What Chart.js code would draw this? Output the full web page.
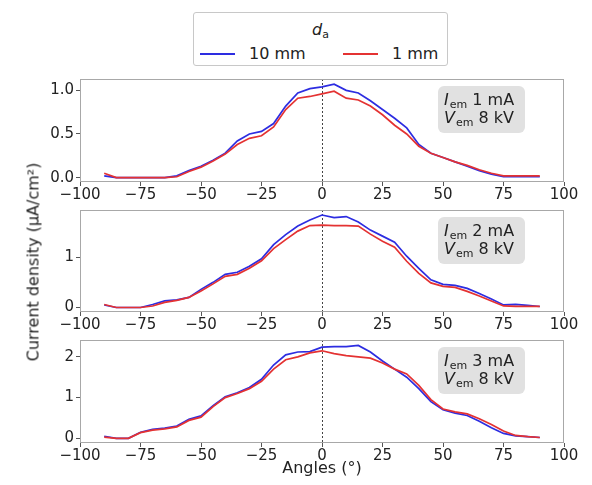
<!DOCTYPE html>
<html>
<head>
<meta charset="utf-8">
<script src="https://cdn.jsdelivr.net/npm/chart.js@4.4.0/dist/chart.umd.min.js"></script>
<style>
  body { margin: 0; background: #fff; font-family: 'DejaVu Sans', sans-serif; color: #222; }
  #wrap { position: relative; width: 592px; height: 485px; overflow: hidden; }
  canvas.panel { position: absolute; left: 0; }
  #legend { position: absolute; left: 193px; top: 12px; width: 255px; height: 54px; border: 1px solid #c8c8c8; border-radius: 3px; box-sizing: border-box; }
  #legend .title { position: absolute; left: 0; right: 0; top: 7px; text-align: center; font-size: 16px; }
  #legend .item { position: absolute; top: 31px; font-size: 16px; white-space: nowrap; }
  #legend .swatch { display: inline-block; width: 35px; height: 2px; vertical-align: middle; margin-right: 14px; position: relative; top: -1px; }
  #ylabel { position: absolute; left: 33px; top: 262px; transform: translate(-50%, -50%) rotate(-90deg); font-size: 16px; white-space: nowrap; }
  #xlabel { position: absolute; left: 322px; top: 467px; transform: translate(-50%, -50%); font-size: 16px; white-space: nowrap; }
  sub { font-size: 11px; vertical-align: -3px; }
</style>
</head>
<body>
<div id="wrap">
  <canvas id="p1" class="panel" width="592" height="134" style="top:68px"></canvas>
  <canvas id="p2" class="panel" width="592" height="133" style="top:199px"></canvas>
  <canvas id="p3" class="panel" width="592" height="134" style="top:329px"></canvas>
  <div id="legend">
    <div class="title"><i>d</i><sub>a</sub></div>
    <div class="item" style="left:6px"><span class="swatch" style="background:rgb(45,45,225)"></span>10 mm</div>
    <div class="item" style="left:149px"><span class="swatch" style="background:rgb(228,50,50)"></span>1 mm</div>
  </div>
  <div id="ylabel">Current density (μA/cm²)</div>
  <div id="xlabel">Angles (°)</div>
</div>
<script>
// angles (deg)
const angles = [-90,-85,-80,-75,-70,-65,-60,-55,-50,-45,-40,-35,-30,-25,-20,-15,-10,-5,0,5,10,15,20,25,30,35,40,45,50,55,60,65,70,75,80,85,90];

// I_em = 1 mA
const p1Far  = [0.02,0.00,0.00,0.00,0.00,0.00,0.02,0.08,0.13,0.20,0.28,0.42,0.50,0.53,0.62,0.82,0.97,1.02,1.04,1.07,1.00,0.97,0.88,0.78,0.68,0.57,0.38,0.28,0.23,0.18,0.13,0.08,0.04,0.01,0.01,0.01,0.01];
const p1Near = [0.05,0.00,0.00,0.00,0.00,0.00,0.01,0.07,0.12,0.19,0.27,0.38,0.45,0.48,0.58,0.78,0.91,0.93,0.96,0.99,0.91,0.89,0.82,0.72,0.60,0.50,0.36,0.28,0.23,0.18,0.14,0.09,0.05,0.02,0.02,0.02,0.02];
// I_em = 2 mA
const p2Far  = [0.05,0.00,0.00,0.00,0.06,0.13,0.15,0.20,0.36,0.50,0.66,0.70,0.82,0.97,1.25,1.45,1.62,1.74,1.84,1.79,1.81,1.70,1.54,1.42,1.30,1.02,0.78,0.55,0.46,0.44,0.38,0.28,0.17,0.05,0.06,0.04,0.02];
const p2Near = [0.06,0.00,0.00,0.00,0.03,0.10,0.14,0.20,0.33,0.47,0.62,0.66,0.78,0.93,1.17,1.35,1.52,1.63,1.64,1.63,1.63,1.62,1.46,1.32,1.20,0.92,0.68,0.49,0.42,0.40,0.32,0.23,0.13,0.03,0.02,0.02,0.02];
// I_em = 3 mA
const p3Far  = [0.05,0.00,0.00,0.15,0.22,0.25,0.30,0.47,0.55,0.80,1.02,1.12,1.25,1.45,1.80,2.05,2.12,2.13,2.24,2.25,2.25,2.28,2.12,1.90,1.70,1.50,1.22,0.90,0.70,0.62,0.56,0.42,0.26,0.12,0.06,0.04,0.02];
const p3Near = [0.03,0.00,0.00,0.14,0.20,0.23,0.28,0.44,0.52,0.78,1.00,1.10,1.22,1.40,1.70,1.93,2.00,2.10,2.15,2.08,2.03,2.00,1.97,1.85,1.70,1.58,1.30,0.95,0.72,0.65,0.60,0.48,0.34,0.18,0.07,0.04,0.02];

const xTicks = [-100, -75, -50, -25, 0, 25, 50, 75, 100];
const p1YTicks = [0, 0.5, 1.0];
const p2YTicks = [0, 1];
const p3YTicks = [0, 1, 2];
const currents = ['1', '2', '3'];
const voltage = '8';
const centerAngle = 0;

const BLUE = 'rgb(45,45,225)';
const RED = 'rgb(228,50,50)';
const FONT = "'DejaVu Sans', sans-serif";

const toPts = (ys) => angles.map((a, i) => ({ x: a, y: ys[i] }));
const minus = (v) => String(v).replace('-', '\u2212');

const extras = {
  id: 'extras',
  beforeDatasetsDraw(chart) {
    const { ctx, chartArea: a, scales: { x } } = chart;
    const px = Math.round(x.getPixelForValue(centerAngle)) + 0.5;
    ctx.save();
    ctx.strokeStyle = '#444';
    ctx.lineWidth = 1;
    ctx.setLineDash([2, 2]);
    ctx.beginPath(); ctx.moveTo(px, a.top); ctx.lineTo(px, a.bottom); ctx.stroke();
    ctx.restore();
  },
  afterDraw(chart) {
    const { ctx, chartArea: a } = chart;
    const o = chart.options.plugins.extras;
    ctx.save();
    // frame
    ctx.strokeStyle = '#a8a8a8';
    ctx.lineWidth = 1;
    ctx.strokeRect(a.left + 0.5, a.top + 0.5, a.right - a.left - 1, a.bottom - a.top - 1);
    // annotation box
    const bw = 87, bh = 47, bx = a.right - 39 - bw, by = a.top + 7;
    ctx.fillStyle = '#e1e1e1';
    ctx.beginPath(); ctx.roundRect(bx, by, bw, bh, 6); ctx.fill();
    ctx.fillStyle = '#222';
    ctx.textBaseline = 'alphabetic';
    const line = (sym, rest, y) => {
      let cx = bx + 6;
      ctx.font = 'italic 16px ' + FONT;
      ctx.fillText(sym, cx, y); cx += ctx.measureText(sym).width + 1;
      ctx.font = '11px ' + FONT;
      ctx.fillText('em', cx, y + 3); cx += ctx.measureText('em').width;
      ctx.font = '16px ' + FONT;
      ctx.fillText(rest, cx, y);
    };
    line('I', ' ' + o.current + ' mA', by + 19);
    line('V', ' ' + voltage + ' kV', by + 37);
    ctx.restore();
  }
};

function makePanel(id, far, near, yMin, yMax, yTicks, yFmt, current) {
  new Chart(document.getElementById(id), {
    type: 'scatter',
    data: {
      datasets: [
        { label: '10 mm', data: toPts(far), borderColor: BLUE, showLine: true, pointRadius: 0, borderWidth: 1.7, order: 1 },
        { label: '1 mm', data: toPts(near), borderColor: RED, showLine: true, pointRadius: 0, borderWidth: 1.7, order: 0 }
      ]
    },
    options: {
      responsive: false,
      animation: false,
      layout: { padding: { top: 5, right: 28, left: 0, bottom: 0 } },
      plugins: { legend: { display: false }, tooltip: { enabled: false }, extras: { current } },
      scales: {
        x: {
          type: 'linear', min: -100, max: 100,
          afterBuildTicks: (s) => { s.ticks = xTicks.map(v => ({ value: v })); },
          afterFit: (s) => { s.height = 20; },
          border: { display: false },
          grid: { drawOnChartArea: false, tickLength: 4, color: '#555' },
          ticks: { autoSkip: false, maxRotation: 0, padding: 0, color: '#222', font: { family: FONT, size: 15 }, callback: (v) => minus(v) }
        },
        y: {
          type: 'linear', min: yMin, max: yMax,
          afterBuildTicks: (s) => { s.ticks = yTicks.map(v => ({ value: v })); },
          afterFit: (s) => { s.width = 80; },
          border: { display: false },
          grid: { drawOnChartArea: false, tickLength: 4, color: '#555' },
          ticks: { padding: 2, color: '#222', font: { family: FONT, size: 15 }, callback: yFmt }
        }
      }
    },
    plugins: [extras]
  });
}

makePanel('p1', p1Far, p1Near, -0.05, 1.13, p1YTicks, (v) => v.toFixed(1), currents[0]);
makePanel('p2', p2Far, p2Near, -0.09, 1.94, p2YTicks, (v) => String(v), currents[1]);
makePanel('p3', p3Far, p3Near, -0.115, 2.415, p3YTicks, (v) => String(v), currents[2]);
</script>
</body>
</html>
